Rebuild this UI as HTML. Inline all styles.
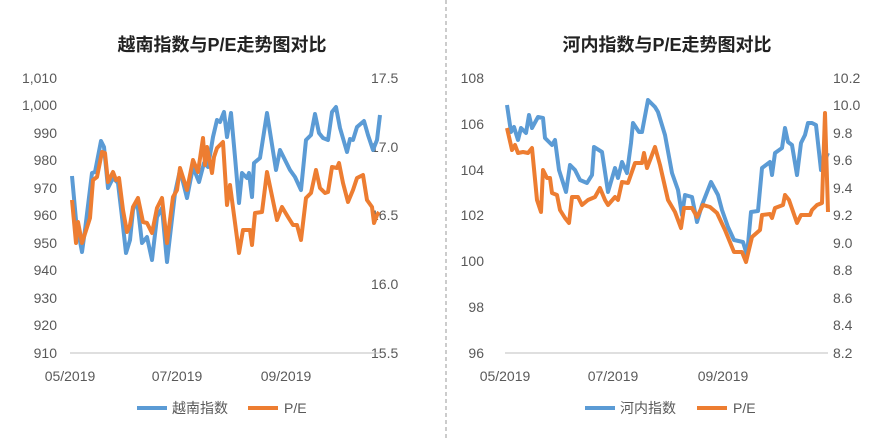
<!DOCTYPE html>
<html><head><meta charset="utf-8"><style>
body{margin:0;background:#fff}
svg text{font-family:"Liberation Sans","Noto Sans CJK SC",sans-serif;fill:#595959;font-size:14px}
.t{font-weight:bold;fill:#222;font-size:18px}
</style></head><body>
<svg width="892" height="439" viewBox="0 0 892 439">
<line x1="446" y1="0" x2="446" y2="439" stroke="#999" stroke-dasharray="4,3"/>
<text class="t" x="222" y="51" text-anchor="middle">越南指数与P/E走势图对比</text>
<text class="t" x="667" y="51" text-anchor="middle">河内指数与P/E走势图对比</text>
<g text-anchor="end">
<text x="57" y="83">1,010</text><text x="57" y="110">1,000</text><text x="57" y="138">990</text><text x="57" y="165">980</text><text x="57" y="193">970</text><text x="57" y="220">960</text><text x="57" y="248">950</text><text x="57" y="275">940</text><text x="57" y="303">930</text><text x="57" y="330">920</text><text x="57" y="358">910</text>
<text x="484" y="83">108</text><text x="484" y="129">106</text><text x="484" y="175">104</text><text x="484" y="220">102</text><text x="484" y="266">100</text><text x="484" y="312">98</text><text x="484" y="358">96</text>
</g>
<g>
<text x="371" y="83">17.5</text><text x="371" y="152">17.0</text><text x="371" y="220">16.5</text><text x="371" y="289">16.0</text><text x="371" y="358">15.5</text>
<text x="833" y="83">10.2</text><text x="833" y="110">10.0</text><text x="833" y="138">9.8</text><text x="833" y="165">9.6</text><text x="833" y="193">9.4</text><text x="833" y="220">9.2</text><text x="833" y="248">9.0</text><text x="833" y="275">8.8</text><text x="833" y="303">8.6</text><text x="833" y="330">8.4</text><text x="833" y="358">8.2</text>
</g>
<line x1="70" y1="353" x2="380" y2="353" stroke="#bfbfbf"/>
<line x1="505" y1="353" x2="828" y2="353" stroke="#bfbfbf"/>
<g text-anchor="middle">
<text x="70" y="381">05/2019</text><text x="177" y="381">07/2019</text><text x="286" y="381">09/2019</text>
<text x="505" y="381">05/2019</text><text x="613" y="381">07/2019</text><text x="723" y="381">09/2019</text>
</g>
<g fill="none" stroke-width="4" stroke-linejoin="round">
<polyline stroke="#5b9bd5" points="72,176 76,220 82,252 85,230 92,173 95,172 101,141 104,147 108,188 113,178 118,183 122,217 126,253 130,240 133,210 137,200 142,243 147,237 152,260 157,217 162,208 167,262 175,193 180,170 187,198 193,167 199,182 204,163 208,167 213,137 217,120 220,122 224,112 227,137 231,113 235,157 239,203 242,173 247,178 249,173 252,197 254,163 260,158 267,113 276,170 280,150 290,170 295,177 301,190 306,140 311,135 315,114 319,133 323,138 328,140 332,112 336,107 340,128 347,152 350,139 353,140 357,127 364,121 368,135 373,150 377,140 380,115"/>
<polyline stroke="#ed7d31" points="72,200 76,243 78,222 82,243 90,218 93,180 97,177 102,152 105,153 108,182 113,172 116,180 119,178 123,210 127,232 130,225 133,207 138,198 143,222 147,223 152,233 157,208 162,198 167,243 173,197 177,190 180,168 187,190 193,160 198,172 203,138 205,165 207,147 212,173 214,157 217,148 223,142 227,205 230,185 239,253 243,230 250,230 252,245 255,213 262,212 267,172 277,220 282,207 288,217 293,225 297,225 301,240 306,198 311,193 316,170 320,188 325,193 328,192 332,167 337,168 339,163 343,183 348,202 353,190 357,178 363,175 367,200 372,207 374,223 377,215 379,212"/>
<polyline stroke="#5b9bd5" points="507,105 511,132 514,127 518,140 521,128 526,133 529,115 532,128 538,117 543,118 545,138 552,145 555,140 559,170 566,192 570,165 575,170 580,180 587,183 592,175 594,147 602,152 608,192 615,168 618,178 622,162 627,173 631,143 633,123 639,132 642,132 648,100 655,107 658,112 665,135 672,173 678,190 682,215 685,195 692,197 697,222 702,205 711,182 718,195 722,210 728,227 734,240 743,242 747,255 751,212 758,211 762,168 770,162 772,175 775,153 782,148 785,128 788,142 792,145 797,175 801,143 805,135 808,123 812,123 816,125 821,170 825,160 828,153"/>
<polyline stroke="#ed7d31" points="507,128 512,150 515,145 518,153 523,152 528,153 532,148 537,200 541,212 543,170 547,178 550,178 552,193 557,195 560,210 565,218 569,223 572,197 578,197 582,205 588,200 595,197 600,188 605,200 608,205 615,197 618,200 622,182 628,183 635,163 642,163 644,153 647,168 655,147 660,165 668,200 675,212 681,228 684,208 692,208 697,217 703,205 710,207 717,213 725,230 734,252 742,252 746,262 752,237 760,230 762,215 770,214 772,218 775,208 783,205 785,195 789,200 797,223 801,215 810,215 812,210 817,205 822,203 825,113 828,212"/>
<line x1="137" y1="408" x2="167" y2="408" stroke="#5b9bd5"/>
<line x1="248" y1="408" x2="278" y2="408" stroke="#ed7d31"/>
<line x1="585" y1="408" x2="615" y2="408" stroke="#5b9bd5"/>
<line x1="697" y1="408" x2="727" y2="408" stroke="#ed7d31"/>
</g>
<text x="172" y="413">越南指数</text><text x="284" y="413">P/E</text>
<text x="620" y="413">河内指数</text><text x="733" y="413">P/E</text>
</svg>
</body></html>
